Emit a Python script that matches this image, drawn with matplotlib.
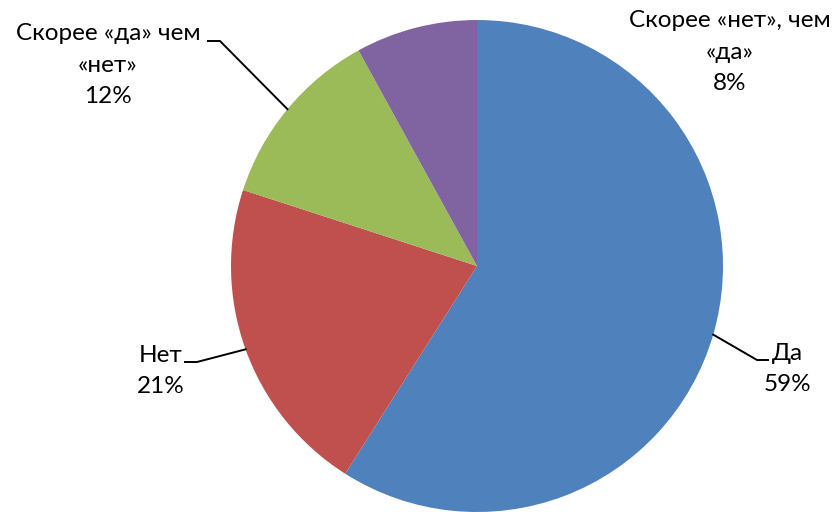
import numpy as np
import matplotlib.pyplot as plt

# survey answers
labels = ['Да', 'Нет', 'Скорее «да» чем\n«нет»', 'Скорее «нет», чем\n«да»']
shares = [59, 21, 12, 8]
colors = ['#4F81BD', '#C0504D', '#9BBB59', '#8064A2']

plt.rcParams['font.family'] = ['Lato', 'DejaVu Sans']

fig = plt.figure(figsize=(8.37, 5.12), dpi=100)
ax = fig.add_axes([0, 0, 1, 1])

cx, cy, r = 477, 246, 246
wedges, _ = ax.pie(shares, colors=colors, startangle=90, counterclock=False,
                   center=(cx, cy), radius=r, wedgeprops=dict(linewidth=0))
ax.set_xlim(0, 837)
ax.set_ylim(0, 512)
ax.set_aspect('equal')
ax.axis('off')

# label layout: text centre, and elbow points of the leader line (None = no line)
text_pos = [(787, 143), (161, 141), (108, 447), (730, 460)]
elbows = [[(757, 152), (768, 152)],
          [(197, 150), (185, 150)],
          [(220, 471), (208, 471)],
          None]

for w, lab, s, tp, el in zip(wedges, labels, shares, text_pos, elbows):
    mid = np.deg2rad((w.theta1 + w.theta2) / 2)
    ax.text(tp[0], tp[1], f'{lab}\n{s}%', ha='center', va='center',
            fontsize=17.5, linespacing=1.6, color='black')
    if el is not None:
        ax0 = cx + r * np.cos(mid)
        ay0 = cy + r * np.sin(mid)
        xs = [ax0] + [p[0] for p in el]
        ys = [ay0] + [p[1] for p in el]
        ax.plot(xs, ys, color='black', linewidth=1.4)

plt.savefig('out.png', dpi=100)
